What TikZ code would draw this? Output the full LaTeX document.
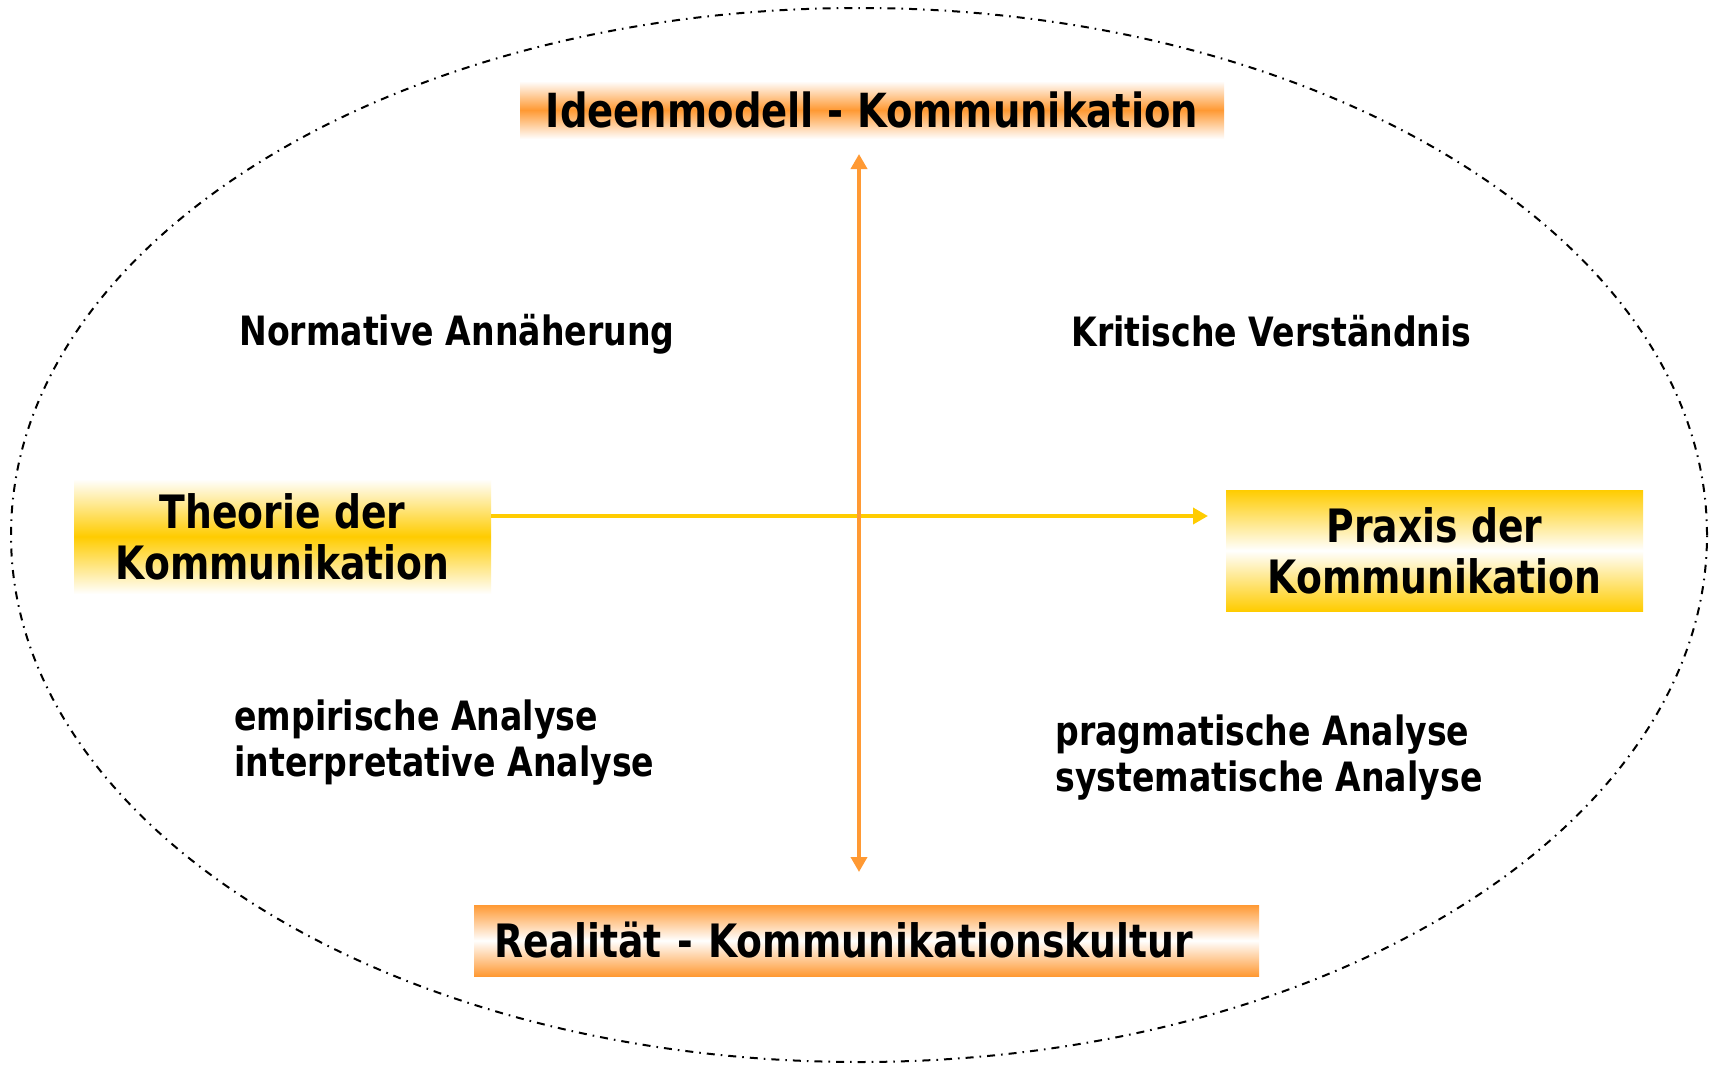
\documentclass[tikz,border=0pt]{standalone}
\usepackage{fontspec}
\setmainfont[FakeStretch=0.82]{DejaVu Sans}
\usetikzlibrary{positioning}
\usetikzlibrary{arrows.meta}

\definecolor{kOrange}{HTML}{FF9933}
\definecolor{kYellow}{HTML}{FFCC00}

\begin{document}
\begin{tikzpicture}[x=0.5pt,y=-0.5pt,>={Triangle[length=7.5pt,width=8pt]},
	pole/.style={inner sep=0pt,font=\fontsize{23}{25.5}\selectfont\bfseries,align=center},
	orange band/.style={pole,top color=white,bottom color=white,middle color=kOrange},
	orange rim/.style={pole,top color=kOrange,bottom color=kOrange,middle color=white},
	yellow band/.style={pole,top color=white,bottom color=white,middle color=kYellow},
	yellow rim/.style={pole,top color=kYellow,bottom color=kYellow,middle color=white},
	approach/.style={inner sep=0pt,font=\fontsize{20.2}{23}\selectfont\bfseries,align=left}]
	
	\useasboundingbox[fill=white] (0,0) rectangle (1714,1066);
	\draw[line width=1pt,dash pattern=on 4pt off 3pt on 0.8pt off 3pt]
	(859,535) ellipse [x radius=424pt, y radius=263.5pt];
	
	% the four poles
	\node[orange band,minimum width=352pt,minimum height=29pt,font=\fontsize{23.5}{25.5}\selectfont\bfseries] (ideal) at (872,110) {Ideenmodell - Kommunikation};
	\node[orange rim,minimum width=392.5pt,minimum height=35.5pt,text width=372pt,align=left] (real) at (866.5,940.5) {Realität - Kommunikationskultur};
	\node[yellow band,minimum width=208.5pt,minimum height=57.5pt] (theorie) at (282.5,536.5) {Theorie der\\Kommunikation};
	\node[yellow rim,minimum width=208.5pt,minimum height=60.5pt] (praxis) at (1434.5,550.5) {Praxis der\\Kommunikation};
	
	% the four approaches
	\node[approach,anchor=west] (norm) at (239,334) {Normative Annäherung};
	\node[approach,anchor=west] (krit) at (1071,331) {Kritische Verständnis};
	\node[approach,anchor=west] (emp) at (234,743) {empirische Analyse\\interpretative Analyse};
	\node[approach,anchor=west] (prag) at (1055,758) {pragmatische Analyse\\systematische Analyse};
	
	% axes
	\coordinate (up) at (859,154);
	\coordinate (down) at (859,872);
	\coordinate (hs) at (theorie.east |- 0,516);
	\coordinate (he) at (1208,516);
	\draw[->,kYellow,line width=1.8pt] (hs) -- (he);
	\draw[<->,kOrange,line width=1.8pt] (down) -- (up);
\end{tikzpicture}
\end{document}
